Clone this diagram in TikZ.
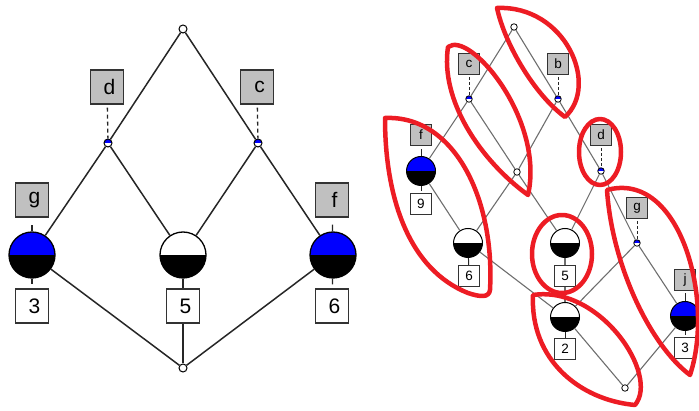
\documentclass[tikz,border=0pt]{standalone}
\usepackage{fontspec}
\setmainfont{Liberation Sans}
\definecolor{lblgray}{RGB}{192,192,192}
\definecolor{hired}{RGB}{237,28,36}
\definecolor{pureblue}{RGB}{0,0,255}
\definecolor{rline}{RGB}{110,110,110}
\tikzset{
  halfblue/.style={path picture={
    \fill[pureblue] (path picture bounding box.west) rectangle (path picture bounding box.north east);
    \fill[black] (path picture bounding box.west) rectangle (path picture bounding box.south east);}},
  halfwhite/.style={fill=white, path picture={
    \fill[black] (path picture bounding box.west) rectangle (path picture bounding box.south east);}},
  smallblue/.style={path picture={
    \fill[pureblue] (path picture bounding box.west) rectangle (path picture bounding box.north east);}},
  bigc/.style={circle, draw=black, line width=1.3pt, minimum size=46pt, inner sep=0pt},
  rbigc/.style={circle, draw=black, line width=1pt, minimum size=29pt, inner sep=0pt},
  smc/.style={circle, draw=black, line width=1pt, fill=white, minimum size=8pt, inner sep=0pt},
  rsmc/.style={circle, draw=black, line width=0.8pt, fill=white, minimum size=6.5pt, inner sep=0pt},
  attrL/.style={draw=black!80, line width=1.3pt, fill=lblgray, minimum width=33pt, minimum height=34pt, inner sep=0pt, font=\fontsize{21}{25}\selectfont},
  valL/.style={draw=black!80, line width=1.3pt, fill=white, minimum width=33pt, minimum height=34pt, inner sep=0pt, font=\fontsize{21}{25}\selectfont},
  rattrL/.style={draw=black!80, line width=1pt, fill=lblgray, minimum width=21pt, minimum height=21pt, inner sep=0pt, font=\fontsize{13.5}{15}\selectfont},
  rvalL/.style={draw=black!80, line width=1pt, fill=white, minimum width=21pt, minimum height=21pt, inner sep=0pt, font=\fontsize{13.5}{15}\selectfont},
  ledge/.style={draw=black!85, line width=1.5pt},
  redge/.style={draw=rline, line width=1.1pt},
  ldash/.style={draw=black!85, line width=1.3pt, dash pattern=on 4pt off 3pt},
  rdash/.style={draw=black!85, line width=1pt, dash pattern=on 3pt off 2pt},
  hull/.style={draw=hired, line width=4.5pt, line join=round}
}
\begin{document}
\begin{tikzpicture}[x=1pt, y=-1pt]
\useasboundingbox (0,0) rectangle (699,411);
% ---------- left lattice ----------
\node[smc] (t1) at (183,29) {};
\node[smc, smallblue] (d1) at (108,143) {};
\node[smc, smallblue] (c1) at (258,143) {};
\node[bigc, halfblue] (g1) at (32,255) {};
\node[bigc, halfwhite] (m1) at (183,255) {};
\node[bigc, halfblue] (f1) at (333,255) {};
\node[smc] (b1) at (183,368) {};
\node[attrL] (ld) at (107,87) {\hspace*{5pt}d};
\node[attrL] (lc) at (257,87) {\hspace*{5pt}c};
\node[attrL] (lg) at (32,200) {\hspace*{5pt}g};
\node[attrL] (lf) at (332,200) {\hspace*{5pt}f};
\node[valL] (l3) at (32,306) {\hspace*{5pt}3};
\node[valL] (l5) at (183,306) {\hspace*{5pt}5};
\node[valL] (l6) at (332,306) {\hspace*{5pt}6};
\draw[ledge] (t1) -- (d1);
\draw[ledge] (t1) -- (c1);
\draw[ledge] (d1) -- (g1);
\draw[ledge] (d1) -- (m1);
\draw[ledge] (c1) -- (m1);
\draw[ledge] (c1) -- (f1);
\draw[ledge] (g1) -- (b1);
\draw[ledge] (f1) -- (b1);
\draw[ledge] (m1) -- (l5);
\draw[ledge] (l5) -- (b1);
\draw[ldash, shorten <=3pt] (ld) -- (d1);
\draw[ldash, shorten <=3pt] (lc) -- (c1);
\draw[ledge, line width=1.3pt, shorten >=7pt] (g1) -- (lg);
\draw[ledge, line width=1.3pt, shorten >=4pt] (g1) -- (l3);
\draw[ledge, line width=1.3pt, shorten >=7pt] (f1) -- (lf);
\draw[ledge, line width=1.3pt, shorten >=4pt] (f1) -- (l6);
% ---------- right lattice ----------
\node[rsmc] (t2) at (514,27) {};
\node[rsmc, smallblue] (c2) at (469,99) {};
\node[rsmc, smallblue] (b2) at (558,99) {};
\node[rbigc, halfblue] (f2) at (421,171) {};
\node[rsmc] (m2) at (517,172) {};
\node[rsmc, smallblue] (d2) at (601,171) {};
\node[rbigc, halfwhite] (s2) at (468,243) {};
\node[rbigc, halfwhite] (v2) at (565,243) {};
\node[rsmc, smallblue] (g2) at (637,243) {};
\node[rbigc, halfwhite] (w2) at (565,317) {};
\node[rbigc, halfblue] (j2) at (685,316) {};
\node[rsmc] (o2) at (625,388) {};
\node[rattrL] (rc) at (469,64) {c};
\node[rattrL] (rb) at (558,64) {b};
\node[rattrL] (rf) at (421,135) {f};
\node[rvalL] (r9) at (421,204) {9};
\node[rattrL] (rd) at (601,135) {d};
\node[rvalL] (r6) at (469,276) {6};
\node[rvalL] (r5) at (565,276) {5};
\node[rattrL] (rg) at (637,208) {g};
\node[rvalL] (r2) at (565,349) {2};
\node[rattrL] (rj) at (685,280) {j};
\node[rvalL] (r3) at (685,348) {3};
\draw[redge] (t2) -- (c2);
\draw[redge] (t2) -- (b2);
\draw[redge] (c2) -- (f2);
\draw[redge] (c2) -- (m2);
\draw[redge] (b2) -- (m2);
\draw[redge] (b2) -- (d2);
\draw[redge] (f2) -- (s2);
\draw[redge] (m2) -- (s2);
\draw[redge] (m2) -- (v2);
\draw[redge] (d2) -- (v2);
\draw[redge] (d2) -- (g2);
\draw[redge] (s2) -- (w2);
\draw[redge] (v2) -- (r5);
\draw[redge] (r5) -- (w2);
\draw[redge] (g2) -- (w2);
\draw[redge] (g2) -- (j2);
\draw[redge] (w2) -- (o2);
\draw[redge] (j2) -- (o2);
\draw[rdash, shorten <=2pt] (rc) -- (c2);
\draw[rdash, shorten <=2pt] (rb) -- (b2);
\draw[rdash, shorten <=2pt] (rd) -- (d2);
\draw[rdash, shorten <=2pt] (rg) -- (g2);
\draw[draw=black!85, line width=1pt, shorten >=3pt] (f2) -- (rf);
\draw[draw=black!85, line width=1pt, shorten >=2pt] (f2) -- (r9);
\draw[draw=black!85, line width=1pt] (s2) -- (r6);
\draw[draw=black!85, line width=1pt] (w2) -- (r2);
\draw[draw=black!85, line width=1pt, shorten >=2pt] (j2) -- (rj);
\draw[draw=black!85, line width=1pt, shorten >=2pt] (j2) -- (r3);
% ---------- red hulls ----------
\draw[hull] (497,8) .. controls (565,5) and (600,85) .. (565,117) .. controls (535,95) and (505,45) .. (497,8) -- cycle;
\draw[hull] (528,195) .. controls (480,160) and (440,100) .. (448,47) .. controls (470,30) and (545,120) .. (528,195) -- cycle;
\draw[hull] (385,118) .. controls (455,115) and (495,200) .. (490,290) .. controls (489,298) and (480,297) .. (468,293) .. controls (410,270) and (385,200) .. (385,118) -- cycle;
\draw[hull] (600,152) ellipse [x radius=21, y radius=33];
\draw[hull] (607,190) .. controls (680,170) and (715,300) .. (690,375) .. controls (650,345) and (612,265) .. (607,190) -- cycle;
\draw[hull] (562,254) ellipse [x radius=30, y radius=39];
\draw[hull] (533,295) .. controls (600,285) and (660,375) .. (635,405) .. controls (580,400) and (530,360) .. (533,295) -- cycle;
\end{tikzpicture}
\end{document}
